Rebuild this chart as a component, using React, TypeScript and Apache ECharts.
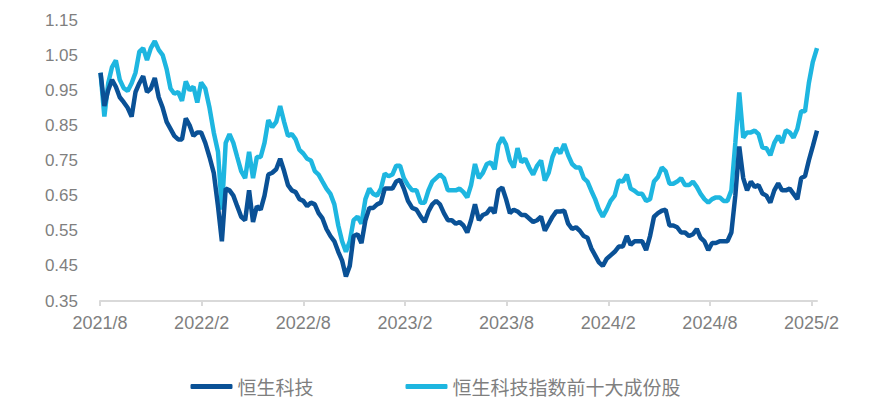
import React, { useEffect, useRef } from "react";
import * as echarts from "echarts";

const seriesNames = ["恒生科技", "恒生科技指数前十大成份股"];
const startDate = [2021, 8, 2]; // first weekly observation (year, month, day)
const xTickLabels = ["2021/8", "2022/2", "2022/8", "2023/2", "2023/8", "2024/2", "2024/8", "2025/2"];
const yMin = 0.35;
const yMax = 1.15;
const yStep = 0.1;

// 恒生科技 (weekly, normalised)
const hstech = [
  1.0, 0.905, 0.95, 0.98, 0.96, 0.93, 0.916, 0.9, 0.875, 0.945,
  0.97, 0.99, 0.945, 0.955, 0.985, 0.93, 0.9, 0.86, 0.84, 0.82,
  0.81, 0.81, 0.87, 0.85, 0.82, 0.83, 0.83, 0.8, 0.76, 0.715,
  0.62, 0.52, 0.67, 0.665, 0.65, 0.62, 0.59, 0.58, 0.665, 0.575,
  0.62, 0.61, 0.65, 0.71, 0.715, 0.725, 0.755, 0.72, 0.68, 0.665,
  0.66, 0.64, 0.635, 0.62, 0.63, 0.625, 0.6, 0.585, 0.555, 0.535,
  0.52, 0.49, 0.465, 0.42, 0.45, 0.535, 0.54, 0.515, 0.58, 0.615,
  0.615, 0.625, 0.63, 0.67, 0.67, 0.67, 0.69, 0.695, 0.67, 0.635,
  0.615, 0.61, 0.59, 0.575, 0.605, 0.625, 0.635, 0.625, 0.6, 0.58,
  0.58, 0.57, 0.575, 0.565, 0.545, 0.58, 0.625, 0.58, 0.595, 0.6,
  0.615, 0.6, 0.665, 0.673, 0.64, 0.6, 0.61, 0.605, 0.595, 0.595,
  0.585, 0.575, 0.58, 0.59, 0.55, 0.57, 0.59, 0.605, 0.605, 0.607,
  0.57, 0.555, 0.56, 0.55, 0.535, 0.53, 0.5, 0.48, 0.46, 0.45,
  0.47, 0.48, 0.49, 0.505, 0.505, 0.535, 0.51, 0.52, 0.52, 0.52,
  0.495, 0.535, 0.59, 0.6, 0.607, 0.61, 0.565, 0.565, 0.56, 0.545,
  0.545, 0.535, 0.54, 0.555, 0.53, 0.52, 0.495, 0.515, 0.515, 0.52,
  0.52, 0.52, 0.545, 0.65, 0.79, 0.7, 0.665, 0.69, 0.675, 0.68,
  0.656, 0.65, 0.63, 0.665, 0.685, 0.665, 0.665, 0.67, 0.655, 0.64,
  0.7, 0.705, 0.75, 0.79, 0.835,
];

// 恒生科技指数前十大成份股 (weekly, normalised)
const top10 = [
  1.0, 0.875, 0.97, 1.016, 1.035, 0.98, 0.956, 0.948, 0.97, 1.0,
  1.06, 1.07, 1.036, 1.07, 1.09, 1.065, 1.05, 1.01, 0.955, 0.94,
  0.945, 0.92, 0.975, 0.95, 0.96, 0.915, 0.972, 0.955, 0.9, 0.83,
  0.775, 0.61, 0.8, 0.825, 0.8, 0.76, 0.72, 0.7, 0.775, 0.7,
  0.76, 0.76, 0.8, 0.865, 0.845, 0.86, 0.905, 0.86, 0.82, 0.825,
  0.81, 0.78, 0.77, 0.755, 0.75, 0.72, 0.71, 0.69, 0.67, 0.655,
  0.625, 0.565, 0.52, 0.49, 0.52, 0.58, 0.59, 0.57, 0.64, 0.67,
  0.655, 0.65, 0.67, 0.713, 0.705, 0.71, 0.735, 0.735, 0.7, 0.68,
  0.665, 0.665, 0.63, 0.63, 0.665, 0.69, 0.7, 0.71, 0.7, 0.665,
  0.665, 0.665, 0.67, 0.66, 0.645, 0.68, 0.74, 0.7, 0.715, 0.74,
  0.745, 0.725, 0.795, 0.815, 0.795, 0.75, 0.73, 0.785, 0.745, 0.755,
  0.73, 0.71, 0.735, 0.75, 0.693, 0.715, 0.76, 0.785, 0.77, 0.797,
  0.765, 0.74, 0.73, 0.73, 0.7, 0.69, 0.664, 0.64, 0.61, 0.59,
  0.61, 0.635, 0.65, 0.693, 0.69, 0.71, 0.67, 0.664, 0.655, 0.655,
  0.635, 0.64, 0.69, 0.703, 0.73, 0.72, 0.684, 0.684, 0.69, 0.7,
  0.68, 0.68, 0.69, 0.675, 0.655, 0.64, 0.63, 0.64, 0.645, 0.645,
  0.635, 0.635, 0.665, 0.8, 0.944, 0.815, 0.83, 0.83, 0.835, 0.825,
  0.787, 0.785, 0.765, 0.8, 0.82, 0.8, 0.836, 0.83, 0.815, 0.84,
  0.89, 0.89, 0.97, 1.03, 1.07,
];

// month offset from 2021/8 for each weekly date
function monthIndex(d: Date): number {
  const y = d.getUTCFullYear();
  const m = d.getUTCMonth();
  const days = new Date(Date.UTC(y, m + 1, 0)).getUTCDate();
  return (y - 2021) * 12 + (m - 7) + (d.getUTCDate() - 1) / days;
}

const weekX: number[] = hstech.map((_, i) =>
  monthIndex(new Date(Date.UTC(startDate[0], startDate[1] - 1, startDate[2]) + i * 7 * 86400000))
);
const xTickValues = xTickLabels.map((_, i) => i * 6);

const DARK = "#0a5196";
const LIGHT = "#1eb6e0";
const GRAY = "#7f7f7f";

export default function App() {
  const ref = useRef<HTMLDivElement>(null);
  useEffect(() => {
    if (!ref.current) return;
    const chart = echarts.init(ref.current, undefined, { renderer: "svg" });
    chart.setOption({
      animation: false,
      backgroundColor: "#ffffff",
      grid: { left: 100, right: 54, top: 20, bottom: 98 },
      legend: {
        data: seriesNames,
        top: 372,
        left: "center",
        icon: "roundRect",
        itemWidth: 42,
        itemHeight: 5,
        itemGap: 92,
        textStyle: { color: GRAY, fontSize: 19, fontFamily: "Noto Sans CJK SC" },
      },
      xAxis: {
        type: "value",
        min: 0,
        max: "dataMax",
        axisLine: { show: true, lineStyle: { color: "#d9d9d9", width: 2 } },
        axisTick: { show: true, customValues: xTickValues, length: 5, lineStyle: { color: "#d9d9d9", width: 2 } },
        axisLabel: {
          customValues: xTickValues,
          formatter: (v: number) => xTickLabels[Math.round(v / 6)] ?? "",
          color: GRAY,
          fontSize: 18,
          fontFamily: "Liberation Sans, Arial, sans-serif",
          margin: 13,
        },
        splitLine: { show: false },
      },
      yAxis: {
        type: "value",
        min: yMin,
        max: yMax,
        interval: yStep,
        axisLine: { show: false },
        axisTick: { show: false },
        splitLine: { show: false },
        axisLabel: {
          formatter: (v: number) => v.toFixed(2),
          color: GRAY,
          fontSize: 17,
          fontFamily: "Liberation Sans, Arial, sans-serif",
          margin: 22,
        },
      },
      series: [
        {
          name: seriesNames[0],
          type: "line",
          z: 3,
          showSymbol: false,
          data: hstech.map((v, i) => [weekX[i], v]),
          lineStyle: { color: DARK, width: 4.5 },
          itemStyle: { color: DARK },
        },
        {
          name: seriesNames[1],
          type: "line",
          z: 2,
          showSymbol: false,
          data: top10.map((v, i) => [weekX[i], v]),
          lineStyle: { color: LIGHT, width: 4.5 },
          itemStyle: { color: LIGHT },
        },
      ],
    });
    return () => chart.dispose();
  }, []);
  return (
    <div
      ref={ref}
      style={{ position: "fixed", left: 0, top: 0, width: 871, height: 399, background: "#fff" }}
    />
  );
}
